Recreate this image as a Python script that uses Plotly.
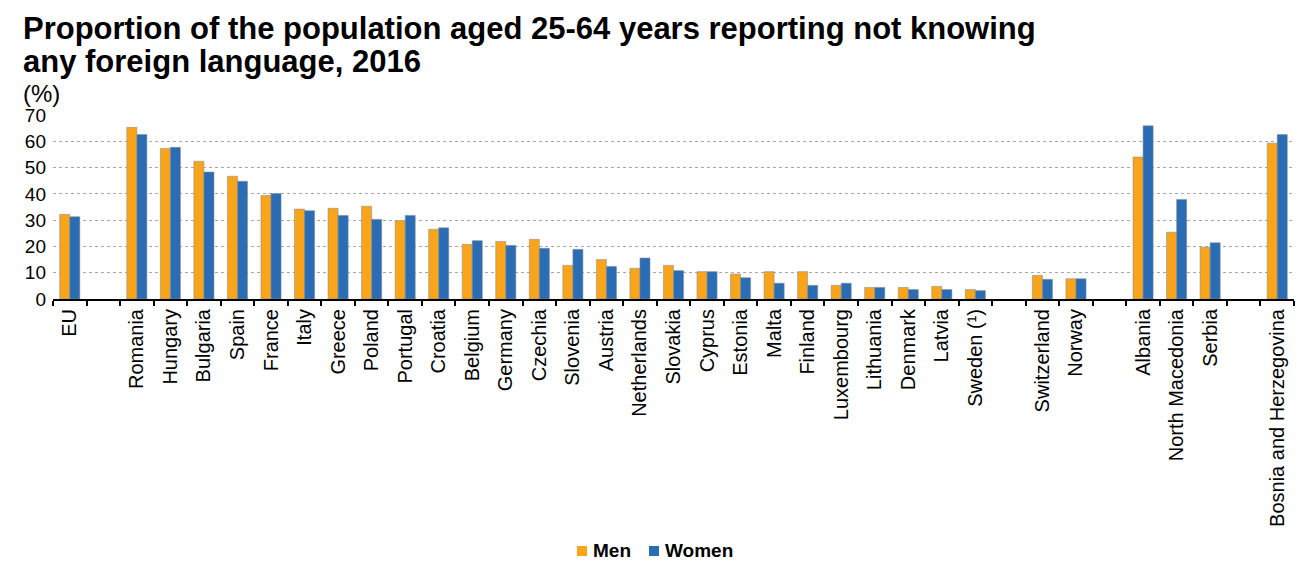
import plotly.graph_objects as go

# Categories (blank entries create the visual gaps between country groups)
categories = [
    "EU", " ",
    "Romania", "Hungary", "Bulgaria", "Spain", "France", "Italy", "Greece",
    "Poland", "Portugal", "Croatia", "Belgium", "Germany", "Czechia",
    "Slovenia", "Austria", "Netherlands", "Slovakia", "Cyprus", "Estonia",
    "Malta", "Finland", "Luxembourg", "Lithuania", "Denmark", "Latvia",
    "Sweden (¹)", "  ",
    "Switzerland", "Norway", "   ",
    "Albania", "North Macedonia", "Serbia", "    ",
    "Bosnia and Herzegovina",
]

men = [
    32.2, None,
    65.3, 57.3, 52.4, 46.7, 39.4, 34.2, 34.5,
    35.3, 29.8, 26.5, 20.8, 21.9, 22.7,
    12.8, 15.0, 11.7, 12.8, 10.4, 9.5,
    10.4, 10.4, 5.2, 4.4, 4.4, 4.8,
    3.6, None,
    9.0, 7.7, None,
    54.0, 25.4, 19.7, None,
    59.3,
]

women = [
    31.3, None,
    62.6, 57.7, 48.3, 44.8, 40.1, 33.6, 31.8,
    30.3, 31.8, 27.1, 22.2, 20.4, 19.3,
    18.9, 12.4, 15.6, 10.8, 10.4, 8.1,
    6.0, 5.2, 6.0, 4.4, 3.6, 3.6,
    3.2, None,
    7.5, 7.7, None,
    65.9, 37.9, 21.4, None,
    62.6,
]

y_ticks = [0, 10, 20, 30, 40, 50, 60, 70]

title_lines = [
    "Proportion of the population aged 25-64 years reporting not knowing",
    "any foreign language, 2016",
]

FONT = "Liberation Sans, Arial, sans-serif"
ORANGE = "#F8A51B"
BLUE = "#2A6DB5"
OUTLINE = "rgba(140,140,140,0.55)"

W, H = 1298, 564
M_L, M_R, M_T, M_B = 53, 4, 115, 265
PLOT_W = W - M_L - M_R
PLOT_H = H - M_T - M_B


def px_to_paper(px, py):
    """Convert page pixel coordinates to paper coordinates."""
    return (px - M_L) / PLOT_W, (H - M_B - py) / PLOT_H


series = [("Men", men, ORANGE), ("Women", women, BLUE)]

fig = go.Figure()
for name, values, color in series:
    fig.add_trace(go.Bar(
        name=name, x=categories, y=values,
        marker=dict(color=color, line=dict(color=OUTLINE, width=1)),
    ))

title_font = dict(size=31, family=FONT, color="black", weight="bold")
annotations = [
    dict(
        text=title_lines[0], xref="paper", yref="paper", x=-0.0258, y=1.0,
        yshift=67, xanchor="left", yanchor="bottom", showarrow=False,
        font=title_font,
    ),
    dict(
        text=title_lines[1], xref="paper", yref="paper", x=-0.0258, y=1.0,
        yshift=34, xanchor="left", yanchor="bottom", showarrow=False,
        font=title_font,
    ),
    dict(
        text="(%)", xref="paper", yref="paper", x=-0.0258, y=1.0, yshift=6,
        xanchor="left", yanchor="bottom", showarrow=False,
        font=dict(size=24, family=FONT, color="black"),
    ),
]

# Legend row below the category labels: small square swatch + bold name
shapes = []
legend_items = [(577, 591), (649, 663)]  # swatch left edge, text left edge
for (sw_x, tx_x), (name, _, color) in zip(legend_items, series):
    x0, y0 = px_to_paper(sw_x, 556)
    x1, y1 = px_to_paper(sw_x + 10, 546)
    shapes.append(dict(
        type="rect", xref="paper", yref="paper", x0=x0, y0=y0, x1=x1, y1=y1,
        fillcolor=color, line=dict(width=0),
    ))
    tx, ty = px_to_paper(tx_x, 563)
    annotations.append(dict(
        text=name, xref="paper", yref="paper", x=tx, y=ty,
        xanchor="left", yanchor="bottom", showarrow=False,
        font=dict(size=19, family=FONT, color="black", weight="bold"),
    ))

fig.update_layout(
    width=W, height=H,
    margin=dict(l=M_L, r=M_R, t=M_T, b=M_B),
    paper_bgcolor="white", plot_bgcolor="white",
    barmode="group", bargap=0.4, bargroupgap=0.0,
    font=dict(family=FONT, color="black"),
    showlegend=False,
    annotations=annotations,
    shapes=shapes,
)

fig.update_xaxes(
    type="category", categoryorder="array", categoryarray=categories,
    tickangle=-90, tickfont=dict(size=20, family=FONT, color="black"),
    showline=True, linecolor="black", linewidth=2,
    ticks="outside", tickson="boundaries", ticklen=5, tickwidth=2,
    tickcolor="black", showgrid=False,
)
fig.update_yaxes(
    range=[0, 70], tickvals=y_ticks,
    tickfont=dict(size=19, family=FONT, color="black"),
    showgrid=True, gridcolor="#A8A8A8", griddash="dot", gridwidth=1,
    zeroline=False, showline=False, ticks="", ticklabelstandoff=6,
)

fig.write_html("out.html")
